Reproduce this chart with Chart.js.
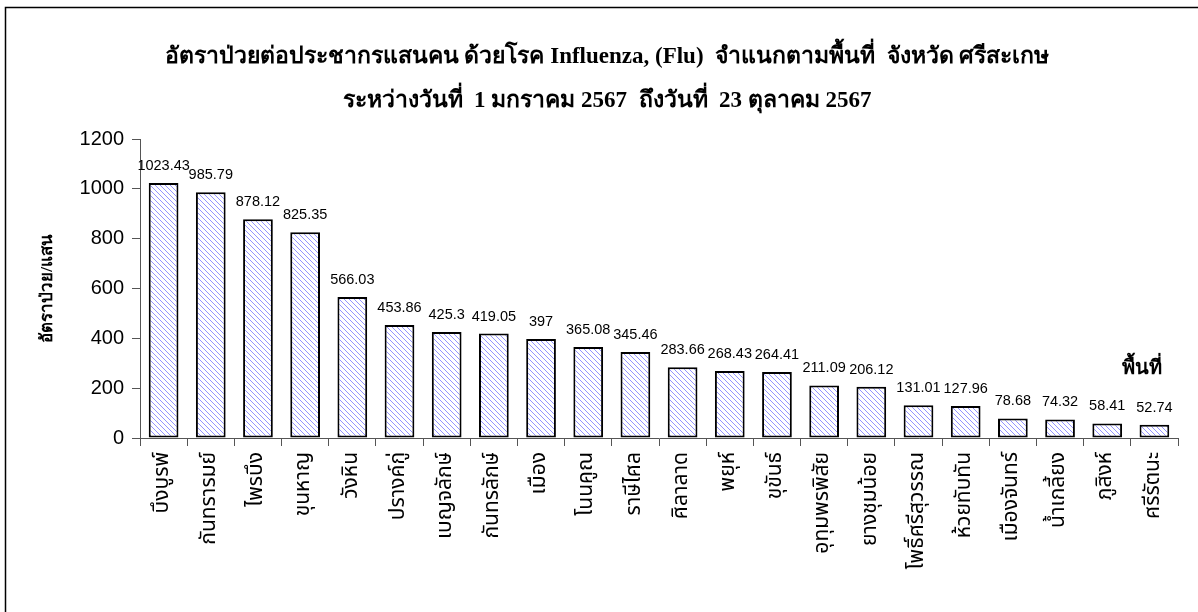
<!DOCTYPE html>
<html>
<head>
<meta charset="utf-8">
<script src="https://cdn.jsdelivr.net/npm/chart.js@4.4.1/dist/chart.umd.min.js"></script>
<style>
html,body{margin:0;padding:0;background:#fff;}
#wrap{width:1198px;height:612px;position:relative;}
</style>
</head>
<body>
<div id="wrap"><canvas id="c" width="1198" height="612"></canvas></div>
<script>
// ---- data ----
const titleLines = [
  'อัตราป่วยต่อประชากรแสนคน ด้วยโรค Influenza, (Flu)  จำแนกตามพื้นที่  จังหวัด ศรีสะเกษ',
  'ระหว่างวันที่  1 มกราคม 2567  ถึงวันที่  23 ตุลาคม 2567'
];
const yAxisTitle = 'อัตราป่วย/แสน';
const xAxisTitle = 'พื้นที่';
const districts = [
  'บึงบูรพ์','กันทรารมย์','ไพรบึง','ขุนหาญ','วังหิน','ปรางค์กู่','เบญจลักษ์','กันทรลักษ์',
  'เมือง','โนนคูณ','ราษีไศล','ศิลาลาด','พยุห์','ขุขันธ์','อุทุมพรพิสัย','ยางชุมน้อย',
  'โพธิ์ศรีสุวรรณ','ห้วยทับทัน','เมืองจันทร์','น้ำเกลี้ยง','ภูสิงห์','ศรีรัตนะ'
];
const rates = [
  1023.43, 985.79, 878.12, 825.35, 566.03, 453.86, 425.3, 419.05,
  397, 365.08, 345.46, 283.66, 268.43, 264.41, 211.09, 206.12,
  131.01, 127.96, 78.68, 74.32, 58.41, 52.74
];
const yMin = 0, yMax = 1200, yStep = 200;

// ---- hatch pattern ----
function makeHatch() {
  const s = 5;
  const pc = document.createElement('canvas');
  pc.width = s; pc.height = s;
  const p = pc.getContext('2d');
  p.fillStyle = '#ffffff';
  p.fillRect(0, 0, s, s);
  p.strokeStyle = '#9494ff';
  p.lineWidth = 1;
  p.beginPath();
  p.moveTo(-1, -1); p.lineTo(s + 1, s + 1);
  p.moveTo(s - 1, -1); p.lineTo(s + 1, 1);
  p.moveTo(-1, s - 1); p.lineTo(1, s + 1);
  p.stroke();
  return p.createPattern(pc, 'repeat');
}

const framePlugin = {
  id: 'frame',
  beforeDraw(chart) {
    const ctx = chart.ctx;
    ctx.save();
    ctx.fillStyle = '#fff';
    ctx.fillRect(0, 0, chart.width, chart.height);
    ctx.strokeStyle = '#000';
    ctx.lineWidth = 1.5;
    ctx.strokeRect(5.5, 7.5, 1400, 800);
    ctx.restore();
  }
};

const valueLabels = {
  id: 'valueLabels',
  afterDatasetsDraw(chart) {
    const ctx = chart.ctx;
    const meta = chart.getDatasetMeta(0);
    const data = chart.data.datasets[0].data;
    ctx.save();
    ctx.font = '14.5px "Liberation Sans", Arial, sans-serif';
    ctx.fillStyle = '#000';
    ctx.textAlign = 'center';
    ctx.textBaseline = 'middle';
    meta.data.forEach((bar, i) => {
      ctx.fillText(String(data[i]), bar.x, bar.y - 17);
    });
    ctx.restore();
  }
};

const xTitlePlugin = {
  id: 'xTitle',
  afterDraw(chart) {
    const ctx = chart.ctx;
    const a = chart.chartArea;
    ctx.save();
    ctx.font = 'bold 20px "Liberation Serif", serif';
    ctx.fillStyle = '#000';
    ctx.textAlign = 'center';
    ctx.textBaseline = 'middle';
    ctx.fillText(xAxisTitle, a.right - 36, a.bottom - 69);
    ctx.restore();
  }
};

new Chart(document.getElementById('c'), {
  type: 'bar',
  data: {
    labels: districts,
    datasets: [{
      data: rates,
      backgroundColor: makeHatch(),
      borderColor: '#000',
      borderWidth: 2,
      borderSkipped: false,
      barPercentage: 0.63,
      categoryPercentage: 1.0
    }]
  },
  options: {
    responsive: false,
    devicePixelRatio: 1,
    animation: false,
    layout: { padding: { left: 36, right: 20, top: 0, bottom: 0 } },
    plugins: {
      legend: { display: false },
      tooltip: { enabled: false },
      title: {
        display: true,
        text: titleLines,
        color: '#000',
        font: { family: '"Liberation Serif", serif', size: 23, weight: 'bold', lineHeight: 44 / 23 },
        padding: { top: 35, bottom: 16 }
      }
    },
    scales: {
      x: {
        offset: true,
        grid: { display: true, drawOnChartArea: false, drawTicks: true, tickLength: 8, color: '#555', offset: true },
        border: { display: true, color: '#555', width: 1 },
        ticks: {
          autoSkip: false, minRotation: 90, maxRotation: 90,
          color: '#000', padding: 6,
          font: { family: '"Noto Sans Thai", "Noto Sans", "DejaVu Sans", sans-serif', size: 21 }
        },
        afterFit(scale) { scale.height = 174; }
      },
      y: {
        min: yMin, max: yMax,
        grid: { display: true, drawOnChartArea: false, drawTicks: true, tickLength: 8, color: '#555' },
        border: { display: true, color: '#555', width: 1 },
        ticks: {
          stepSize: yStep, color: '#000', padding: 8,
          font: { family: '"Liberation Sans", Arial, sans-serif', size: 20 },
          callback: (v) => String(v)
        },
        title: {
          display: true, text: yAxisTitle, color: '#000',
          font: { family: '"Liberation Serif", serif', size: 17, weight: 'bold' },
          padding: { top: 1, bottom: 0 }
        },
        afterFit(scale) { scale.width = 104; }
      }
    }
  },
  plugins: [framePlugin, valueLabels, xTitlePlugin]
});
</script>
</body>
</html>
